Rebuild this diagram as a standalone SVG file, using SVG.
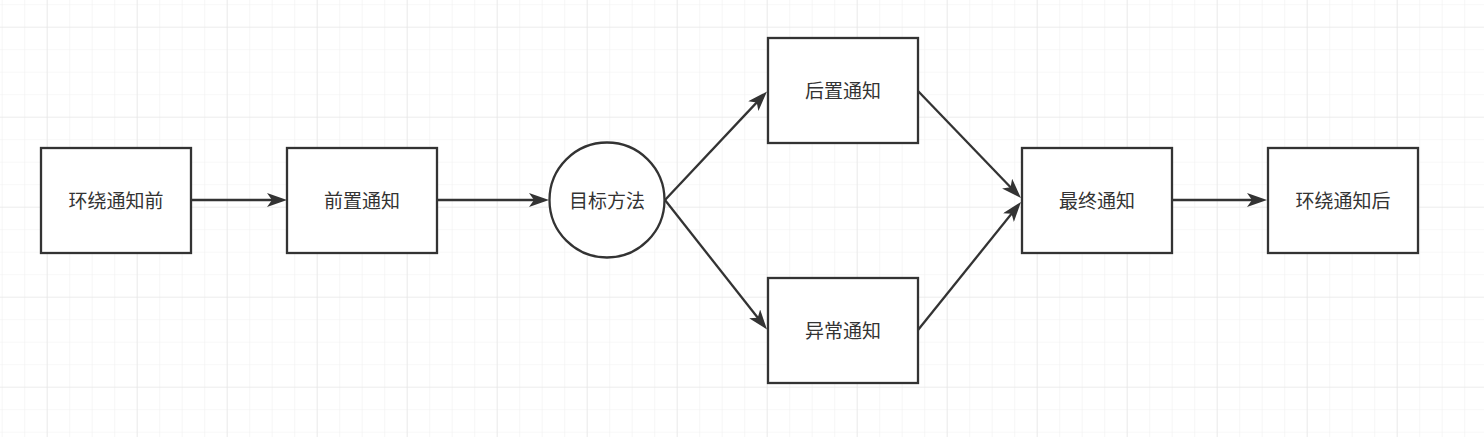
<svg xmlns="http://www.w3.org/2000/svg" width="1484" height="437" viewBox="0 0 1484 437">
<style>
.box{fill:#fff;stroke:#333;stroke-width:2.3}
.lbl{font-family:"Noto Sans CJK SC","Noto Sans",sans-serif;font-size:19px;fill:#333;text-anchor:middle}
.edge{stroke:#333;stroke-width:2.3;fill:none;marker-end:url(#arr)}
</style>
<defs>
<pattern id="minor" x="1.7" y="4.2" width="22.5" height="22.5" patternUnits="userSpaceOnUse">
<path d="M0,0 H22.5 M0,0 V22.5" stroke="#f0f0f0" stroke-width="1.2" fill="none"/>
</pattern>
<pattern id="major" x="46.7" y="26.7" width="90" height="90" patternUnits="userSpaceOnUse">
<path d="M0,0 H90 M0,0 V90" stroke="#e4e4e4" stroke-width="1.2" fill="none"/>
</pattern>
<marker id="arr" viewBox="0 0 20 14" markerWidth="20" markerHeight="14" refX="14" refY="7" orient="auto" markerUnits="userSpaceOnUse">
<path d="M0,0 L20,7 L0,14 L5,7 Z" fill="#333"/>
</marker>
</defs>
<rect width="1484" height="437" fill="#fff"/>
<rect width="1484" height="437" fill="url(#minor)"/>
<rect width="1484" height="437" fill="url(#major)"/>
<g id="connectors">
<line class="edge" x1="191" y1="200" x2="281" y2="200"/>
<line class="edge" x1="437" y1="200" x2="543" y2="200"/>
<line class="edge" x1="665" y1="200" x2="762.9" y2="95.9"/>
<line class="edge" x1="665" y1="200" x2="763.3" y2="324.8"/>
<line class="edge" x1="918" y1="91" x2="1016.8" y2="193.7"/>
<line class="edge" x1="918" y1="330" x2="1017.2" y2="206.7"/>
<line class="edge" x1="1172" y1="200" x2="1261" y2="200"/>
</g>
<g id="n1"><rect class="box" x="41" y="148" width="150" height="105"/><text class="lbl" x="116" y="208">环绕通知前</text></g>
<g id="n2"><rect class="box" x="287" y="148" width="150" height="105"/><text class="lbl" x="362" y="208">前置通知</text></g>
<g id="n3"><circle class="box" cx="607" cy="200" r="57.5"/><text class="lbl" x="607" y="208">目标方法</text></g>
<g id="n4"><rect class="box" x="768" y="38" width="150" height="105"/><text class="lbl" x="843" y="98">后置通知</text></g>
<g id="n5"><rect class="box" x="768" y="278" width="150" height="105"/><text class="lbl" x="843" y="338">异常通知</text></g>
<g id="n6"><rect class="box" x="1022" y="148" width="150" height="105"/><text class="lbl" x="1097" y="208">最终通知</text></g>
<g id="n7"><rect class="box" x="1268" y="148" width="150" height="105"/><text class="lbl" x="1343" y="208">环绕通知后</text></g>
</svg>
